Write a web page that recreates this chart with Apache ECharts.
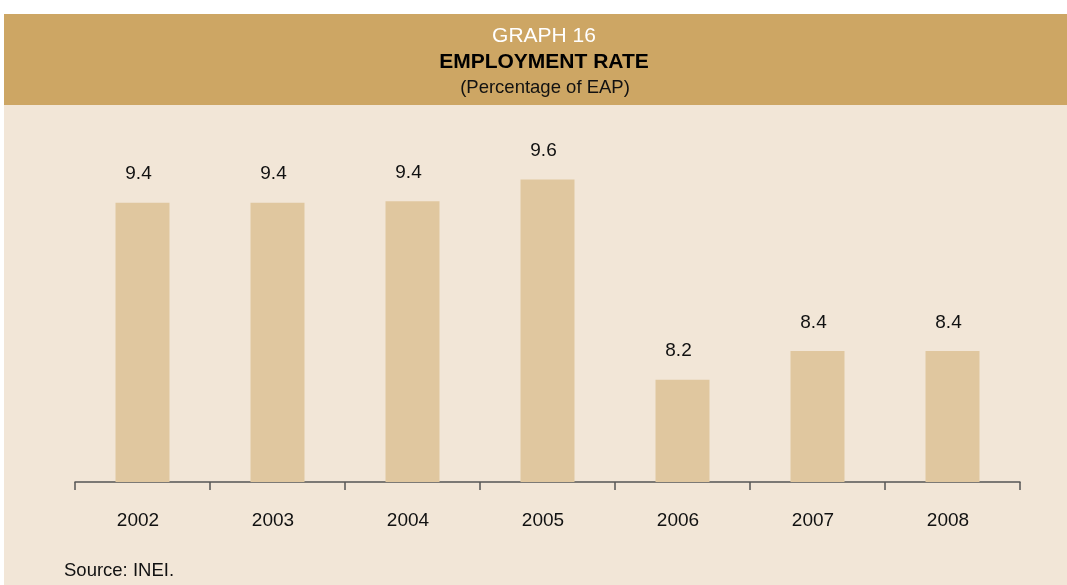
<!DOCTYPE html>
<html>
<head>
<meta charset="utf-8">
<script src="https://cdn.jsdelivr.net/npm/echarts@6/dist/echarts.min.js"></script>
<style>html,body{margin:0;padding:0;background:#fff;}#c{width:1067px;height:585px;}</style>
</head>
<body>
<div id="c"></div>
<script>
const categories = ['2002','2003','2004','2005','2006','2007','2008'];
const rateValues = [9.44, 9.44, 9.45, 9.60, 8.21, 8.41, 8.41];

const FF = '"Liberation Sans", Arial, sans-serif';
const chart = echarts.init(document.getElementById('c'));
chart.setOption({
  backgroundColor: '#ffffff',
  animation: false,
  graphic: [
    {type:'rect', z:-10, shape:{x:4,y:14,width:1063,height:91}, style:{fill:'#CDA664'}},
    {type:'rect', z:-10, shape:{x:4,y:105,width:1063,height:480}, style:{fill:'#F2E6D7'}},
    {type:'text', x:544, y:36, style:{text:'GRAPH 16', align:'center', verticalAlign:'middle', font:'21px ' + FF, fill:'#ffffff'}},
    {type:'text', x:544, y:62, style:{text:'EMPLOYMENT RATE', align:'center', verticalAlign:'middle', font:'bold 21px ' + FF, fill:'#000000'}},
    {type:'text', x:545, y:88, style:{text:'(Percentage of EAP)', align:'center', verticalAlign:'middle', font:'18.5px ' + FF, fill:'#111111'}},
    {type:'text', left:64, top:561, style:{text:'Source: INEI.', font:'18.5px ' + FF, fill:'#111'}}
  ],
  grid: {left:75, right:47, top:122, bottom:103, containLabel:false},
  xAxis: {
    type:'category', data:categories,
    axisLine:{show:true, lineStyle:{color:'#555', width:1.5}},
    axisTick:{show:true, length:8, alignWithLabel:false, lineStyle:{color:'#555', width:1.5}},
    axisLabel:{color:'#111', fontSize:19, margin:29, fontFamily:FF, padding:[0,9,0,0]}
  },
  yAxis: {type:'value', min:7.5, max:10, show:false, splitLine:{show:false}},
  series: [{
    type:'bar', data:rateValues, barWidth:54,
    itemStyle:{color:'#E0C79F'},
    label:{show:true, position:'top', distance:19, offset:[-4,0], color:'#111', fontSize:19, fontFamily:FF,
      formatter: p => p.value.toFixed(1)}
  }]
});
</script>
</body>
</html>
